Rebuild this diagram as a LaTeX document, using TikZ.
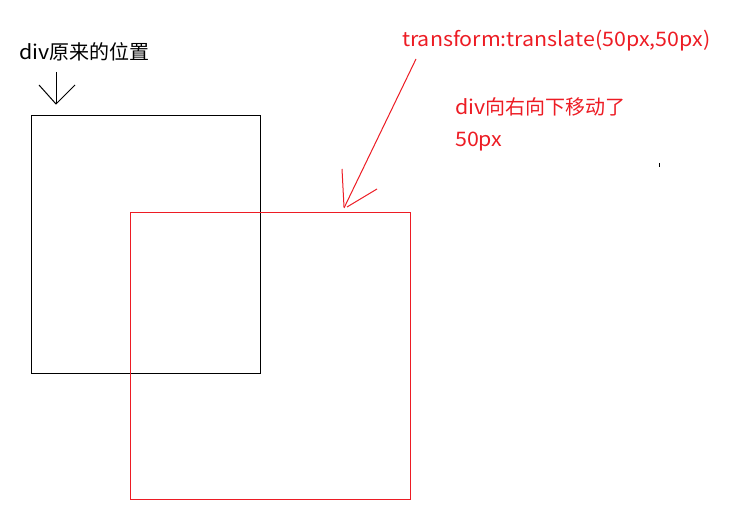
\documentclass[tikz,border=0pt]{standalone}
\usepackage{fontspec}
\setmainfont{Noto Sans CJK SC}
\newfontfamily\latn[FakeStretch=1.07]{Noto Sans CJK SC}
\definecolor{myred}{RGB}{237,28,36}
\tikzset{
  box/.style={draw, line width=1pt, inner sep=0pt, anchor=north west},
  lbl/.style={inner sep=0pt, anchor=west, font=\fontsize{20}{24}\selectfont},
  stroke/.style={line width=1pt}
}
\begin{document}
\begin{tikzpicture}[x=1pt,y=-1pt]
\useasboundingbox[fill=white] (0,0) rectangle (736,513);
% boxes
\node[box, black, minimum width=229pt, minimum height=258pt] (orig) at (31,115) {};
\node[box, myred, minimum width=280pt, minimum height=287pt] (moved) at (130,212) {};
% labels
\node[lbl, black] (origlbl) at (19,52) {{\latn div}原来的位置};
\node[lbl, myred] (trlbl) at (402,41) {\latn transform:translate(50px,50px)};
\node[lbl, myred] (mv1) at (455,107) {{\latn div}向右向下移动了};
\node[lbl, myred] (mv2) at (455,142) {\latn 50px};
% black arrow
\coordinate (a0) at (56,72);
\coordinate (a1) at (56,104);
\coordinate (al) at (39,85);
\coordinate (ar) at (75,85);
\draw[stroke] (a0) -- (a1);
\draw[stroke] (al) -- (a1) -- (ar);
% red arrow
\coordinate (r0) at (416,59);
\coordinate (r1) at (344,208);
\coordinate (rl) at (342,169);
\coordinate (rr) at (377,189);
\coordinate (rlt) at (344,207);
\coordinate (rrt) at (347,207);
\draw[stroke, myred] (r0) -- (r1);
\draw[stroke, myred] (rl) -- (rlt);
\draw[stroke, myred] (rr) -- (rrt);
% stray tick
\coordinate (t0) at (659.5,163);
\coordinate (t1) at (659.5,167);
\draw[line width=1pt] (t0) -- (t1);
\end{tikzpicture}
\end{document}
